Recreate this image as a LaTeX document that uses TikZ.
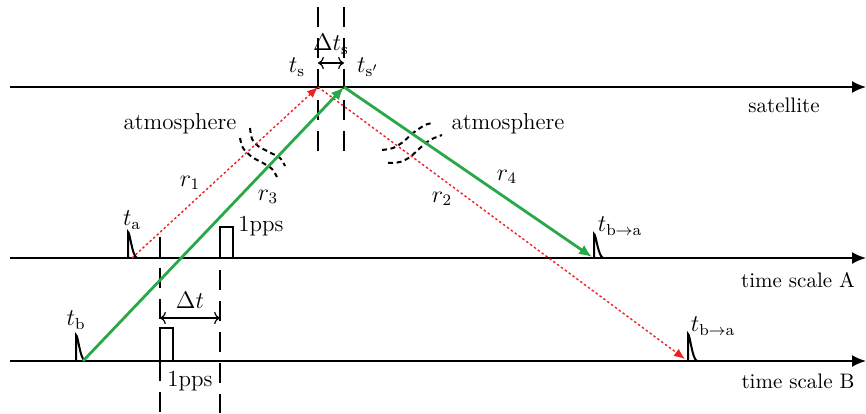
\documentclass[tikz,border=0pt]{standalone}
\usepackage{amsmath}
\usepackage{tikz}
\usetikzlibrary{arrows.meta}
\definecolor{sigverde}{RGB}{40,168,72}
\definecolor{sigrosso}{RGB}{236,32,36}

\begin{document}
\begin{tikzpicture}[x=0.5pt,y=-0.5pt,font=\fontsize{11.5}{13}\selectfont,
  asse/.style={line width=1pt,-{Latex[length=7pt,width=6pt]}},
  impulso/.style={line width=1pt},
  guida/.style={line width=0.8pt,dash pattern=on 10pt off 5.5pt},
  atmo/.style={line width=1pt,dash pattern=on 2.5pt off 1.8pt},
  verde/.style={sigverde,line width=1.4pt,-{Latex[length=6.5pt,width=5.5pt]}},
  rosso/.style={sigrosso,line width=0.7pt,dash pattern=on 1.2pt off 1.2pt,
    -{Latex[length=5.5pt,width=4.5pt]}}]
  \useasboundingbox (0,0) rectangle (866,413);

  % punti dei segnali
  \coordinate (ta) at (132,258);
  \coordinate (tb) at (83,361);
  \coordinate (s1) at (318,87);
  \coordinate (s2) at (344,87);
  \coordinate (ra) at (592,257);
  \coordinate (rb) at (685,359);

  % assi dei tempi
  \coordinate (satA) at (10,87);  \coordinate (satB) at (866,87);
  \coordinate (tsA) at (10,258);  \coordinate (tsB) at (866,258);
  \coordinate (tbA) at (10,361);  \coordinate (tbB) at (866,361);
  \draw[asse] (satA)--(satB);
  \draw[asse] (tsA)--(tsB);
  \draw[asse] (tbA)--(tbB);
  \node[font=\fontsize{10.5}{12}\selectfont] (sat) at (784,105) {satellite};
  \node[font=\fontsize{10.5}{12}\selectfont] (scA) at (798,280) {time scale A};
  \node[font=\fontsize{10.5}{12}\selectfont] (scB) at (798,381) {time scale B};

  % linee tratteggiate verticali
  \draw[guida] (318,7)--(318,157);
  \draw[guida] (344,7)--(344,157);
  \draw[guida] (160,237)--(160,413);
  \draw[guida] (220,270)--(220,413);

  % impulsi
  \draw[impulso] (128,258)--(128,232) .. controls (130,232) and (132,256) .. (137,258);
  \draw[impulso] (76,361)--(76,335) .. controls (78,335) and (80,359) .. (85,361);
  \draw[impulso] (594,258)--(594,234) .. controls (596,234) and (598,256) .. (603,258);
  \draw[impulso] (688,361)--(688,334) .. controls (690,334) and (692,359) .. (697,361);
  \draw[impulso] (220,258)--(220,227)--(233,227)--(233,258);
  \draw[impulso] (160,361)--(160,328)--(173,328)--(173,361);

  % atmosfera
  \draw[atmo] plot[smooth] coordinates {(250,128) (252,139) (258,146) (269,152) (280,158) (285,166)};
  \draw[atmo] plot[smooth] coordinates {(240,138) (243,148) (252,157) (263,163) (272,169) (277,177)};
  \draw[atmo] plot[smooth] coordinates {(382,150) (393,148) (403,142) (413,133) (425,125) (433,123)};
  \draw[atmo] plot[smooth] coordinates {(388,163) (400,162) (410,157) (420,148) (430,140) (442,135)};
  \node (atm1) at (180,124) {atmosphere};
  \node (atm2) at (508,124) {atmosphere};

  % segnali
  \draw[rosso] (ta)--(s1);
  \draw[rosso] (s1)--(rb);
  \draw[verde] (tb)--(s2);
  \draw[verde] (s2)--(ra);
  \node (r1) at (190,183) {$r_1$};
  \node (r3) at (268,197) {$r_3$};
  \node (r2) at (442,199) {$r_2$};
  \node (r4) at (507,177) {$r_4$};

  % etichette dei tempi
  \node (lts) at (297,67) {$t_{\mathrm{s}}$};
  \node (ltsp) at (368,67) {$t_{\mathrm{s'}}$};
  \node (ldts) at (331,44) {$\Delta t_{\mathrm{s}}$};
  \coordinate (dsA) at (318,63);
  \coordinate (dsB) at (344,63);
  \draw[line width=0.6pt,<->] (dsA)--(dsB);
  \node (lta) at (132,220) {$t_{\mathrm{a}}$};
  \node (ltb) at (76,320) {$t_{\mathrm{b}}$};
  \node (ltba1) at (620,226) {$t_{\mathrm{b\to a}}$};
  \node (ltba2) at (713,326) {$t_{\mathrm{b\to a}}$};
  \node (pps1) at (261,226) {1pps};
  \node (pps2) at (190,381) {1pps};
  \node (ldt) at (190,300) {$\Delta t$};
  \coordinate (dtA) at (160,318);
  \coordinate (dtB) at (220,318);
  \draw[line width=0.6pt,<->] (dtA)--(dtB);
\end{tikzpicture}
\end{document}
